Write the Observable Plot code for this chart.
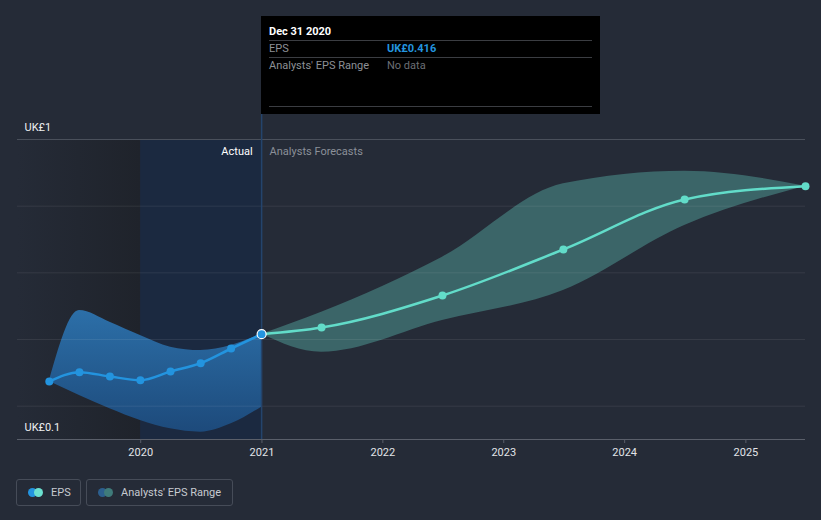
<!DOCTYPE html>
<html>
<head>
<meta charset="utf-8">
<script src="https://cdn.jsdelivr.net/npm/d3@7"></script>
<script src="https://cdn.jsdelivr.net/npm/@observablehq/plot@0.6"></script>
<style>
  html, body { margin: 0; padding: 0; background: #252b37; }
  body { width: 821px; height: 520px; position: relative; overflow: hidden; font-family: Roboto, "Noto Sans", sans-serif; }
  #chart { position: absolute; left: 0; top: 0; }
  .tip { position: absolute; left: 261px; top: 16px; width: 339px; height: 98px; background: #000; font-size: 11px; }
  .tip .row { position: absolute; left: 8px; right: 8px; height: 17px; line-height: 17px; white-space: nowrap; }
  .tip .sep { position: absolute; left: 8px; right: 8px; height: 1px; background: #3b3d42; }
  .tip .lab { color: #8d9096; position: absolute; left: 0; }
  .tip .val { position: absolute; left: 118px; }
  .legend { position: absolute; top: 479px; left: 16px; display: flex; gap: 5px; font-size: 11px; color: #c6cad0; white-space: nowrap; }
  .legend .item { height: 27px; border: 1px solid #464c58; border-radius: 3px; display: flex; align-items: center; padding: 0 0 0 11px; box-sizing: border-box; white-space: nowrap; }
  .legend .sw { position: relative; width: 15px; height: 9px; margin-right: 8px; flex: none; }
  .legend .sw span { position: absolute; top: 0; width: 9px; height: 9px; border-radius: 50%; }
</style>
</head>
<body>
<div id="chart"></div>
<div class="tip">
  <div class="row" style="top:7px;color:#fff;font-weight:bold;">Dec 31 2020</div>
  <div class="sep" style="top:24px"></div>
  <div class="row" style="top:24px"><span class="lab">EPS</span><span class="val" style="color:#2394df;font-weight:bold;">UK£0.416</span></div>
  <div class="sep" style="top:41px"></div>
  <div class="row" style="top:41px"><span class="lab">Analysts' EPS Range</span><span class="val" style="color:#6c6f75;">No data</span></div>
  <div class="sep" style="top:90px"></div>
</div>
<div class="legend">
  <div class="item" style="width:65px"><div class="sw"><span style="left:0;background:#2394df"></span><span style="left:6px;background:#6be1d0"></span></div>EPS</div>
  <div class="item" style="width:147px"><div class="sw"><span style="left:0;background:#2c5f8e"></span><span style="left:6px;background:#3f7b7a"></span></div>Analysts' EPS Range</div>
</div>
<script>
const actualDates = ["2019-03-31","2019-06-30","2019-09-30","2019-12-31","2020-03-31","2020-06-30","2020-09-30","2020-12-31"];
const actualEPS   = [0.274, 0.302, 0.289, 0.278, 0.304, 0.329, 0.373, 0.416];
const actualHigh  = [0.274, 0.487, 0.452, 0.412, 0.377, 0.367, 0.382, 0.416];
const actualLow   = [0.274, 0.232, 0.192, 0.157, 0.132, 0.122, 0.147, 0.197];

const forecastDates = ["2020-12-31","2021-06-30","2022-06-30","2023-06-30","2024-06-30","2025-06-30"];
const forecastEPS   = [0.416, 0.436, 0.532, 0.670, 0.820, 0.860];
const forecastHigh  = [0.416, 0.482, 0.647, 0.867, 0.905, 0.860];
const forecastLow   = [0.416, 0.362, 0.457, 0.547, 0.742, 0.860];

const yTickValues = [1, 0.1];
const yTickLabels = ["UK£1", "UK£0.1"];
const gridValues = [0.2, 0.4, 0.6, 0.8];
const yearTicks = ["2020","2021","2022","2023","2024","2025"];
const currentDate = "2020-12-31";
const pastBoundary = "2020-01-01";

const P = d => new Date(d + "T00:00:00Z");
const actual = actualDates.map((d, i) => ({date: P(d), eps: actualEPS[i], hi: actualHigh[i], lo: actualLow[i]}));
const forecast = forecastDates.map((d, i) => ({date: P(d), eps: forecastEPS[i], hi: forecastHigh[i], lo: forecastLow[i]}));
const xStart = P("2018-12-25"), xEnd = P("2025-06-30");
const now = P(currentDate);

const chart = Plot.plot({
  width: 821,
  height: 470,
  marginLeft: 17,
  marginRight: 16,
  marginTop: 139,
  marginBottom: 31,
  style: {background: "transparent", fontFamily: "Roboto, 'Noto Sans', sans-serif", fontSize: "11px", overflow: "visible"},
  x: {type: "utc", domain: [xStart, xEnd], axis: null},
  y: {type: "linear", domain: [0.1, 1], axis: null},
  marks: [
    Plot.rect([{x1: xStart, x2: P(pastBoundary)}], {x1: "x1", x2: "x2", y1: 0.1, y2: 1, fill: "url(#pastGrad)"}),
    Plot.rect([{x1: P(pastBoundary), x2: now}], {x1: "x1", x2: "x2", y1: 0.1, y2: 1, fill: "#1b2940"}),
    Plot.areaY(actual, {x: "date", y1: "lo", y2: "hi", curve: "monotone-x", fill: "url(#bandGrad)"}),
    Plot.areaY(forecast, {x: "date", y1: "lo", y2: "hi", curve: "monotone-x", fill: "#3b6568"}),
    Plot.ruleY(gridValues, {stroke: "#ffffff", strokeOpacity: 0.08}),
    Plot.ruleY([1], {stroke: "#4a505b"}),
    Plot.ruleY([0.1], {stroke: "#5a5f6a"}),
    Plot.ruleX([now], {stroke: "#24446c", strokeWidth: 1.5, insetTop: -25}),
    Plot.line(forecast, {x: "date", y: "eps", curve: "monotone-x", stroke: "#62dcc9", strokeWidth: 2.5}),
    Plot.dot(forecast.slice(1), {x: "date", y: "eps", r: 4, fill: "#62dcc9"}),
    Plot.line(actual, {x: "date", y: "eps", curve: "monotone-x", stroke: "#2394df", strokeWidth: 2.5}),
    Plot.dot(actual.slice(0, -1), {x: "date", y: "eps", r: 4, fill: "#2394df"}),
    Plot.dot(actual.slice(-1), {x: "date", y: "eps", r: 4.5, fill: "#2394df", stroke: "#ffffff", strokeWidth: 1.2}),
    Plot.text([{x: now, t: "Actual"}], {x: "x", text: "t", frameAnchor: "top", lineAnchor: "middle", dy: 12, dx: -9, textAnchor: "end", fill: "#ffffff", fontSize: 11}),
    Plot.text([{x: now, t: "Analysts Forecasts"}], {x: "x", text: "t", frameAnchor: "top", lineAnchor: "middle", dy: 12, dx: 8, textAnchor: "start", fill: "#8b9099", fontSize: 11}),
    Plot.text(yTickValues.map((v, i) => ({v, t: yTickLabels[i]})), {y: "v", text: "t", frameAnchor: "left", dx: 7, dy: -12, textAnchor: "start", fill: "#eef0f2", fontSize: 11}),
    Plot.axisX(yearTicks.map(P), {tickFormat: d3.utcFormat("%Y"), tickSize: 4, tickPadding: 5, stroke: "#5a5f6a", fill: "#e2e4e8", fontSize: 11, label: null})
  ]
});

const svg = d3.select(chart);
const defs = svg.insert("defs", ":first-child");
const pg = defs.append("linearGradient").attr("id", "pastGrad").attr("x1", 0).attr("x2", 1).attr("y1", 0).attr("y2", 0);
pg.append("stop").attr("offset", "0%").attr("stop-color", "#252b37");
pg.append("stop").attr("offset", "100%").attr("stop-color", "#1f232b");
const bg = defs.append("linearGradient").attr("id", "bandGrad").attr("x1", 0).attr("x2", 0).attr("y1", 0).attr("y2", 1);
bg.append("stop").attr("offset", "0%").attr("stop-color", "#2c6fa8");
bg.append("stop").attr("offset", "100%").attr("stop-color", "#1d4a7b");

document.getElementById("chart").appendChild(chart);
</script>
</body>
</html>
